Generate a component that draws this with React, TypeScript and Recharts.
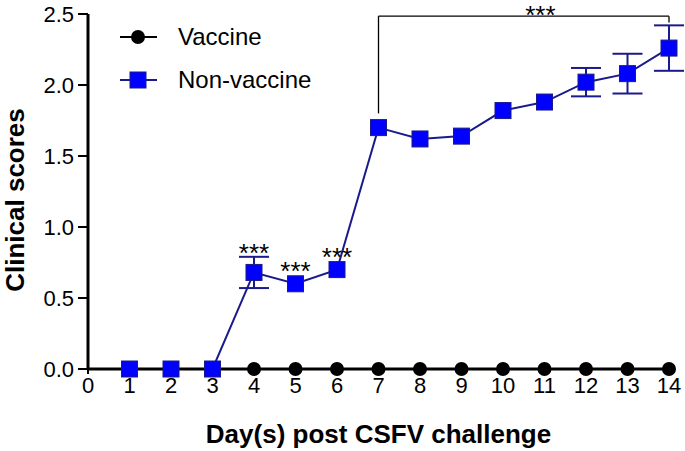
import {
  ComposedChart,
  Line,
  XAxis,
  YAxis,
  ErrorBar,
  LabelList,
  ReferenceLine,
} from 'recharts';

const days = [1, 2, 3, 4, 5, 6, 7, 8, 9, 10, 11, 12, 13, 14];
const vaccine = [0, 0, 0, 0, 0, 0, 0, 0, 0, 0, 0, 0, 0, 0];
const nonVaccine = [0, 0, 0, 0.68, 0.6, 0.7, 1.7, 1.62, 1.64, 1.82, 1.88, 2.02, 2.08, 2.26];
const nonVaccineErr = [0, 0, 0, 0.11, 0, 0, 0, 0, 0, 0, 0, 0.1, 0.14, 0.16];
const stars = ['', '', '', '***', '***', '***', '', '', '', '', '', '', '', ''];

const xTicks = [0, 1, 2, 3, 4, 5, 6, 7, 8, 9, 10, 11, 12, 13, 14];
const yTicks = [0, 0.5, 1, 1.5, 2, 2.5];

// bracket over days 7-14
const bracketY = 2.485;
const bracketLeft = { x: 7, yEnd: 1.8 };
const bracketRight = { x: 14, yEnd: 2.44 };
const bracketStarX = 10.9;

const NAVY = '#1a1a8c';
const BLUE = '#0000ff';
const FONT = '"Liberation Sans", Arial, sans-serif';
const PX_PER_UNIT = 142;

const data = days.map((d, i) => ({
  day: d,
  vaccine: vaccine[i],
  nonVaccine: nonVaccine[i],
  err: nonVaccineErr[i],
  sig: stars[i],
}));

const Square = (props: any) => {
  const { cx, cy } = props;
  if (cx == null || cy == null) return null;
  return <rect x={cx - 8} y={cy - 8} width={16} height={16} fill={BLUE} stroke={NAVY} strokeWidth={1} />;
};

const Dot = (props: any) => {
  const { cx, cy } = props;
  if (cx == null || cy == null) return null;
  return <circle cx={cx} cy={cy} r={7} fill="#000" />;
};

const StarLabel = (props: any) => {
  const { x, y, value, index } = props;
  if (!value) return null;
  const e = nonVaccineErr[index];
  const base = e > 0 ? y - e * PX_PER_UNIT + 5 : y - 4;
  return (
    <text x={x} y={base} textAnchor="middle" fontFamily={FONT} fontSize={26} fill="#000">
      {value}
    </text>
  );
};

const YLabel = () => (
  <text
    x={15}
    y={200}
    transform="rotate(-90 15 200)"
    textAnchor="middle"
    dominantBaseline="central"
    fontFamily={FONT}
    fontSize={26}
    fontWeight="bold"
    fill="#000"
  >
    Clinical scores
  </text>
);

const legendItems = [
  { name: 'Vaccine', color: '#000', shape: 'circle' },
  { name: 'Non-vaccine', color: NAVY, shape: 'square' },
];

const ChartLegend = () => (
  <div style={{ position: 'absolute', left: 118, top: 15, fontFamily: FONT, fontSize: 24, color: '#000' }}>
    {legendItems.map((it) => (
      <div key={it.name} style={{ display: 'flex', alignItems: 'center', height: 43 }}>
        <svg width={40} height={20} style={{ marginRight: 20 }}>
          <line x1={2} y1={10} x2={39} y2={10} stroke={it.color} strokeWidth={2} />
          {it.shape === 'circle' ? (
            <circle cx={20} cy={10} r={7} fill="#000" />
          ) : (
            <rect x={12} y={2} width={16} height={16} fill={BLUE} stroke={NAVY} />
          )}
        </svg>
        <span>{it.name}</span>
      </div>
    ))}
  </div>
);

export default function App() {
  return (
    <div style={{ position: 'absolute', left: 0, top: 0, width: 685, height: 451, background: '#fff' }}>
      <ComposedChart
        width={685}
        height={451}
        data={data}
        margin={{ top: 14, right: 16, bottom: 0, left: 0 }}
      >
        <XAxis
          dataKey="day"
          type="number"
          domain={[0, 14]}
          ticks={xTicks}
          interval={0}
          height={82}
          tick={{ fontSize: 22, fill: '#000', fontFamily: FONT }}
          tickLine={{ stroke: '#000', strokeWidth: 2 }}
          tickSize={5}
          tickMargin={3}
          axisLine={{ stroke: '#000', strokeWidth: 3 }}
          label={{
            value: 'Day(s) post CSFV challenge',
            position: 'insideBottom',
            offset: 8,
            style: { fontSize: 26, fontWeight: 'bold', fill: '#000', fontFamily: FONT },
          }}
        />
        <YAxis
          domain={[0, 2.5]}
          ticks={yTicks}
          interval={0}
          width={88}
          tickFormatter={(v: number) => v.toFixed(1)}
          tick={{ fontSize: 22, fill: '#000', fontFamily: FONT }}
          tickLine={{ stroke: '#000', strokeWidth: 2 }}
          tickSize={10}
          tickMargin={4}
          axisLine={{ stroke: '#000', strokeWidth: 3 }}
          label={<YLabel />}
        />
        <ReferenceLine
          segment={[
            { x: bracketLeft.x, y: bracketLeft.yEnd },
            { x: bracketLeft.x, y: bracketY },
          ]}
          stroke="#000"
          strokeWidth={1.3}
        />
        <ReferenceLine
          segment={[
            { x: bracketLeft.x, y: bracketY },
            { x: bracketRight.x, y: bracketY },
          ]}
          stroke="#000"
          strokeWidth={1.3}
        />
        <ReferenceLine
          segment={[
            { x: bracketRight.x, y: bracketY },
            { x: bracketRight.x, y: bracketRight.yEnd },
          ]}
          stroke="#000"
          strokeWidth={1.3}
        />
        <ReferenceLine
          segment={[
            { x: bracketStarX - 0.01, y: bracketY },
            { x: bracketStarX + 0.01, y: bracketY },
          ]}
          stroke="none"
          label={{ value: '***', position: 'top', offset: -8, style: { fontSize: 26, fill: '#000', fontFamily: FONT } }}
        />
        <Line
          dataKey="vaccine"
          stroke="#000"
          strokeWidth={2}
          dot={<Dot />}
          activeDot={false}
          isAnimationActive={false}
        />
        <Line
          dataKey="nonVaccine"
          stroke={NAVY}
          strokeWidth={2}
          dot={<Square />}
          activeDot={false}
          isAnimationActive={false}
        >
          <ErrorBar dataKey="err" width={15} stroke={NAVY} strokeWidth={2} direction="y" />
          <LabelList dataKey="sig" content={<StarLabel />} />
        </Line>
      </ComposedChart>
      <ChartLegend />
    </div>
  );
}
